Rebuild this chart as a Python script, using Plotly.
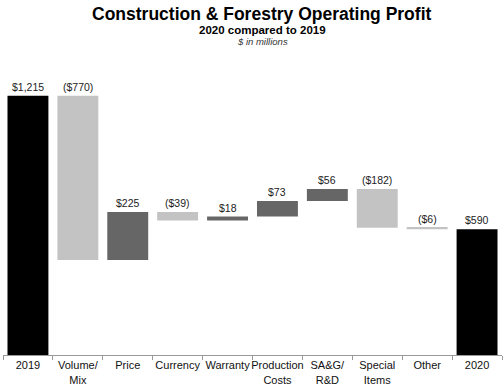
import plotly.graph_objects as go

categories = ["2019", "Volume/<br>Mix", "Price", "Currency", "Warranty",
              "Production<br>Costs", "SA&G/<br>R&D", "Special<br>Items", "Other", "2020"]
values = [1215, -770, 225, -39, 18, 73, 56, -182, -6, 590]
measures = ["absolute", "relative", "relative", "relative", "relative",
            "relative", "relative", "relative", "relative", "total"]
labels = ["$1,215", "($770)", "$225", "($39)", "$18", "$73", "$56", "($182)", "($6)", "$590"]

fig = go.Figure()
fig.add_trace(go.Waterfall(
    x=categories, y=values, measure=measures,
    increasing=dict(marker=dict(color="#666666")),
    decreasing=dict(marker=dict(color="#c3c3c3")),
    totals=dict(marker=dict(color="#000000")),
    connector=dict(visible=False),
    textposition="none",
    width=0.82,
    hoverinfo="skip",
))

# label positions derived from cumulative data
run = 0
for i, (v, m, lab) in enumerate(zip(values, measures, labels)):
    if m == "absolute":
        top = v
        run = v
    elif m == "total":
        top = run
    else:
        top = max(run, run + v)
        run += v
    fig.add_annotation(x=i, y=top, text=lab, showarrow=False, yanchor="bottom",
                       yshift=1, font=dict(size=10.5, color="#222222", family="Liberation Sans, Arial"))

fig.add_annotation(xref="paper", yref="paper", x=0.52, y=1.0, yshift=50, text="<b>Construction &amp; Forestry Operating Profit</b>",
                   showarrow=False, font=dict(size=17.5, color="#000000", family="Liberation Sans, Arial"), yanchor="bottom")
fig.add_annotation(xref="paper", yref="paper", x=0.52, y=1.0, yshift=38, text="<b>2020 compared to 2019</b>",
                   showarrow=False, font=dict(size=11.5, color="#000000", family="Liberation Sans, Arial"), yanchor="bottom")
fig.add_annotation(xref="paper", yref="paper", x=0.52, y=1.0, yshift=27, text="<i>$ in millions</i>",
                   showarrow=False, font=dict(size=9.5, color="#333333", family="Liberation Sans, Arial"), yanchor="bottom")

fig.update_layout(
    width=504, height=388,
    margin=dict(l=3, r=2, t=76, b=33),
    paper_bgcolor="white", plot_bgcolor="white",
    showlegend=False,
    font=dict(family="Liberation Sans, Arial", size=11, color="#111111"),
    xaxis=dict(type="category", range=[-0.5, len(categories) - 0.5], showline=True,
               linecolor="#999999", linewidth=1, ticks="outside",
               tickson="boundaries", ticklen=4, tickcolor="#999999", tickangle=0,
               tickfont=dict(size=11, color="#111111"), automargin=False),
    yaxis=dict(visible=False, range=[0, 1308], showgrid=False, zeroline=False),
)

fig.write_html("out.html", config={"displayModeBar": False},
               post_script="document.body.style.margin='0';document.body.style.overflow='hidden';")
